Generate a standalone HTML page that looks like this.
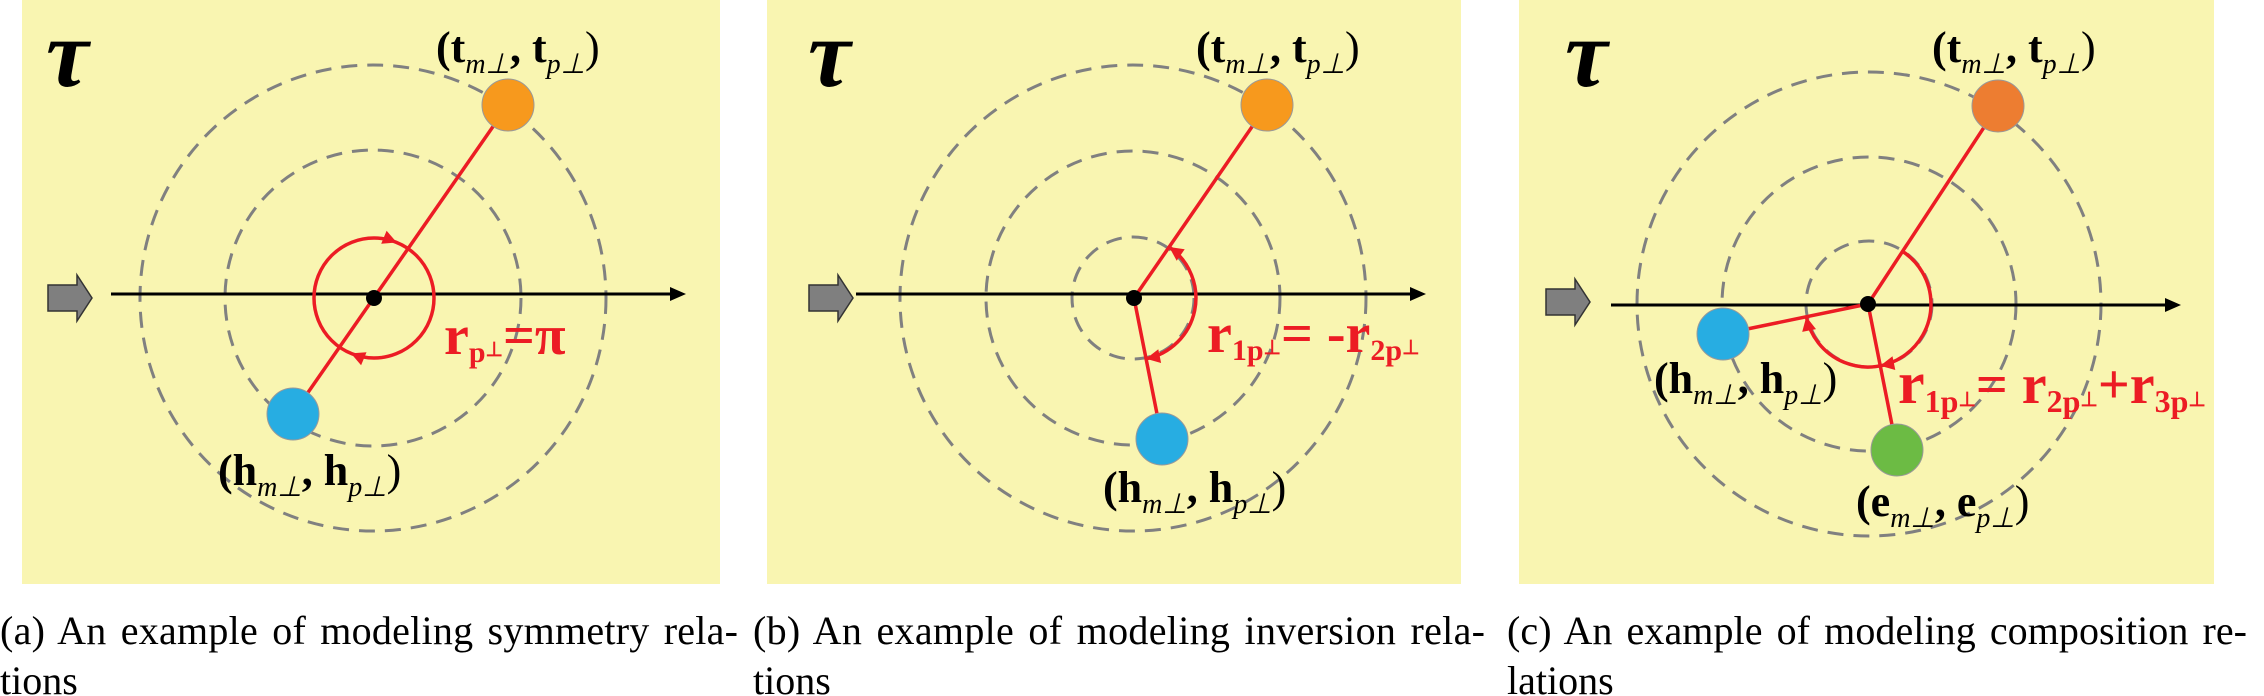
<!DOCTYPE html>
<html><head><meta charset="utf-8"><style>
html,body{margin:0;padding:0;background:#fff;}
svg{display:block;}
</style></head><body>
<svg width="2264" height="696" viewBox="0 0 2264 696" xmlns="http://www.w3.org/2000/svg" font-family="Liberation Serif, serif">
<rect x="22" y="0" width="698" height="584" fill="#f9f5b1"/>
<rect x="767" y="0" width="694" height="584" fill="#f9f5b1"/>
<rect x="1519" y="0" width="695" height="584" fill="#f9f5b1"/>

<g fill="none" stroke="#808080" stroke-width="3" stroke-dasharray="16,10">
<circle cx="373" cy="298" r="233"/>
<circle cx="373" cy="298" r="148"/>
<circle cx="1133" cy="298" r="233"/>
<circle cx="1133" cy="298" r="147"/>
<circle cx="1133" cy="298" r="61"/>
<circle cx="1869" cy="304" r="232"/>
<circle cx="1869" cy="304" r="147"/>
<circle cx="1869" cy="304" r="63"/>
</g>

<g stroke="#000" stroke-width="3">
<line x1="111" y1="294" x2="672" y2="294"/>
<line x1="856" y1="294" x2="1412" y2="294"/>
<line x1="1611" y1="305" x2="2168" y2="305"/>
</g>
<g fill="#000">
<polygon points="686,294 670,287 670,301"/>
<polygon points="1426,294 1410,287 1410,301"/>
<polygon points="2181,305 2165,298 2165,312"/>
</g>
<g fill="#7f7f7f" stroke="#333" stroke-width="1.5">
<polygon points="48,285 77,285 77,275 92,298 77,321 77,311 48,311"/>
<polygon points="809,285 838,285 838,275 853,298 838,321 838,311 809,311"/>
<polygon points="1546,289 1575,289 1575,279 1590,302 1575,325 1575,315 1546,315"/>
</g>

<g stroke="#ec1c24" stroke-width="3.5" fill="none">
<line x1="508" y1="105" x2="293" y2="414"/>
<circle cx="374" cy="298" r="60"/>
<line x1="1267" y1="105" x2="1134" y2="298"/>
<line x1="1134" y1="298" x2="1162" y2="439"/>
<path d="M1169.2,247 A62,62 0 0 1 1146,358.8"/>
<line x1="1998" y1="106" x2="1868" y2="304"/>
<line x1="1868" y1="304" x2="1723" y2="334"/>
<line x1="1868" y1="304" x2="1897" y2="450"/>
<path d="M1902.6,251.4 A63,63 0 1 1 1806.3,316.8"/>
</g>
<g fill="#ec1c24">
<polygon points="396.8,242.5 381.2,243.7 386.6,230.7"/>
<polygon points="350.9,353.4 366.5,352.3 361.1,365.3"/>
<polygon points="1169.2,247 1184.7,249.2 1176.7,260.8"/>
<polygon points="1146,358.8 1161.1,363 1158.3,349.2"/>
<polygon points="1806.3,316.8 1816,329.1 1802.2,331.9"/>
<polygon points="1880.2,365.8 1895.3,370 1892.5,356.2"/>
</g>

<g stroke="#999" stroke-width="1">
<circle cx="508" cy="105" r="26" fill="#f7991d"/>
<circle cx="293" cy="414" r="26" fill="#27ade2"/>
<circle cx="1267" cy="105" r="26" fill="#f7991d"/>
<circle cx="1162" cy="439" r="26" fill="#27ade2"/>
<circle cx="1998" cy="106" r="26" fill="#ed7d31"/>
<circle cx="1723" cy="334" r="26" fill="#27ade2"/>
<circle cx="1897" cy="450" r="26" fill="#6cbb44"/>
</g>
<g fill="#000">
<circle cx="374" cy="298" r="8"/>
<circle cx="1134" cy="298" r="8"/>
<circle cx="1868" cy="304" r="8"/>
</g>

<g font-size="96" font-style="italic" font-weight="bold" fill="#000">
<text x="46" y="86">τ</text>
<text x="808" y="86">τ</text>
<text x="1565" y="86">τ</text>
</g>

<g font-size="44" fill="#000">
<text x="436" y="62"><tspan font-weight="bold">(t</tspan><tspan font-size="28" font-style="italic" dy="11">m⊥</tspan><tspan font-weight="bold" dy="-11">, t</tspan><tspan font-size="28" font-style="italic" dy="11">p⊥</tspan><tspan dy="-11">)</tspan></text>
<text x="218" y="485"><tspan font-weight="bold">(h</tspan><tspan font-size="28" font-style="italic" dy="11">m⊥</tspan><tspan font-weight="bold" dy="-11">, h</tspan><tspan font-size="28" font-style="italic" dy="11">p⊥</tspan><tspan dy="-11">)</tspan></text>
<text x="1196" y="62"><tspan font-weight="bold">(t</tspan><tspan font-size="28" font-style="italic" dy="11">m⊥</tspan><tspan font-weight="bold" dy="-11">, t</tspan><tspan font-size="28" font-style="italic" dy="11">p⊥</tspan><tspan dy="-11">)</tspan></text>
<text x="1103" y="502"><tspan font-weight="bold">(h</tspan><tspan font-size="28" font-style="italic" dy="11">m⊥</tspan><tspan font-weight="bold" dy="-11">, h</tspan><tspan font-size="28" font-style="italic" dy="11">p⊥</tspan><tspan dy="-11">)</tspan></text>
<text x="1932" y="62"><tspan font-weight="bold">(t</tspan><tspan font-size="28" font-style="italic" dy="11">m⊥</tspan><tspan font-weight="bold" dy="-11">, t</tspan><tspan font-size="28" font-style="italic" dy="11">p⊥</tspan><tspan dy="-11">)</tspan></text>
<text x="1654" y="393"><tspan font-weight="bold">(h</tspan><tspan font-size="28" font-style="italic" dy="11">m⊥</tspan><tspan font-weight="bold" dy="-11">, h</tspan><tspan font-size="28" font-style="italic" dy="11">p⊥</tspan><tspan dy="-11">)</tspan></text>
<text x="1856" y="516"><tspan font-weight="bold">(e</tspan><tspan font-size="28" font-style="italic" dy="11">m⊥</tspan><tspan font-weight="bold" dy="-11">, e</tspan><tspan font-size="28" font-style="italic" dy="11">p⊥</tspan><tspan dy="-11">)</tspan></text>
</g>

<g fill="#ec1c24" font-weight="bold">
<text x="444" y="354" font-size="56">r<tspan font-size="30" dy="8">p</tspan><tspan font-size="20" dy="-6">⊥</tspan><tspan font-size="56" dy="-2">=π</tspan></text>
<text x="1207" y="352" font-size="56">r<tspan font-size="30" dy="8">1p</tspan><tspan font-size="20" dy="-6">⊥</tspan><tspan font-size="56" dy="-2">= -r</tspan><tspan font-size="30" dy="8">2p</tspan><tspan font-size="20" dy="-6">⊥</tspan></text>
<text x="1898" y="403" font-size="60">r<tspan font-size="32" dy="9">1p</tspan><tspan font-size="20" dy="-6">⊥</tspan><tspan font-size="56" dy="-3">= r</tspan><tspan font-size="32" dy="9">2p</tspan><tspan font-size="20" dy="-6">⊥</tspan><tspan font-size="56" dy="-3">+r</tspan><tspan font-size="32" dy="9">3p</tspan><tspan font-size="20" dy="-6">⊥</tspan></text>
</g>

<g font-size="40" fill="#000" word-spacing="4">
<text x="0" y="644" textLength="738" lengthAdjust="spacing">(a)  An example of modeling symmetry rela-</text>
<text x="0" y="694">tions</text>
<text x="753" y="644" textLength="732" lengthAdjust="spacing">(b)  An example of modeling inversion rela-</text>
<text x="753" y="694">tions</text>
<text x="1507" y="644" textLength="740" lengthAdjust="spacing">(c)  An example of modeling composition re-</text>
<text x="1507" y="694">lations</text>
</g>
</svg>
</body></html>
